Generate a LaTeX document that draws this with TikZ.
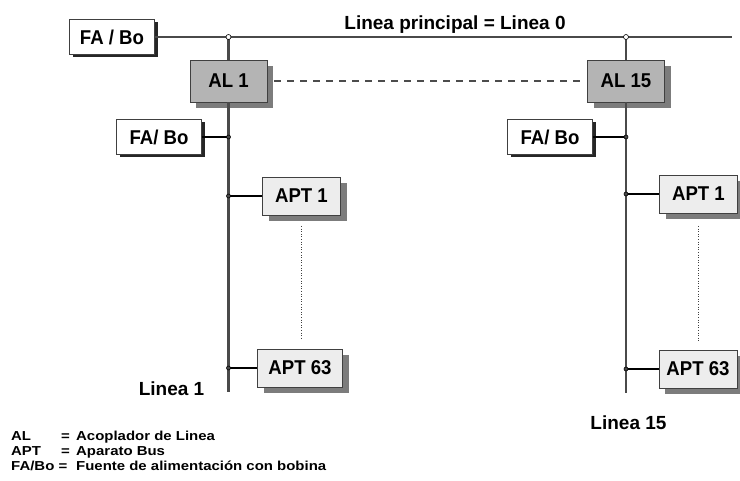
\documentclass[tikz,border=0pt]{standalone}
\usepackage{fontspec}
\setmainfont{Liberation Sans}
\newfontfamily\boxfont[FakeStretch=0.93]{Liberation Sans}
\newfontfamily\legfont[FakeStretch=1.15]{Liberation Sans}
\usetikzlibrary{shadows,calc}
\definecolor{alfill}{HTML}{B4B4B4}
\definecolor{aptfill}{HTML}{EDEDED}
\definecolor{shgray}{HTML}{7C7C7C}
\definecolor{busgray}{HTML}{4A4A4A}
\tikzset{
  boxbase/.style={draw=black!75, line width=0.9pt, inner sep=0pt, font=\boxfont\fontsize{20}{20}\selectfont\bfseries},
  fabox/.style={boxbase, fill=white, minimum width=85pt, minimum height=35pt,
    drop shadow={shadow xshift=3pt, shadow yshift=-3pt, fill=black!85, opacity=1}},
  albox/.style={boxbase, fill=alfill, minimum width=77pt, minimum height=42pt,
    drop shadow={shadow xshift=6pt, shadow yshift=-6pt, fill=shgray, opacity=1}},
  aptbox/.style={boxbase, fill=aptfill, minimum width=78pt, minimum height=38pt,
    drop shadow={shadow xshift=6pt, shadow yshift=-6pt, fill=shgray, opacity=1}},
  bus/.style={draw=busgray, line width=2.6pt},
  tap/.style={draw=black, line width=1.6pt},
  dotline/.style={draw=black!75, line width=1.4pt, dash pattern=on 1pt off 1.6pt},
  jdot/.style={circle, draw=black, fill=busgray, line width=0.6pt, inner sep=0pt, minimum size=5pt},
  lbl/.style={font=\fontsize{19}{19}\selectfont\bfseries, inner sep=0pt, anchor=base},
  leg/.style={font=\legfont\fontsize{13}{13}\selectfont\bfseries, inner sep=0pt, anchor=base west},
}
\begin{document}
\begin{tikzpicture}[x=1pt, y=-1pt]
\useasboundingbox (0,0) rectangle (740,481);
% coordinates
\coordinate (j0a) at (228.5,37);
\coordinate (j0b) at (626,37);
\coordinate (mainend) at (732,37);
\coordinate (l1b) at (228.5,392);
\coordinate (l15b) at (626,393);
\coordinate (j1a) at (228.5,137);
\coordinate (j1b) at (228.5,196);
\coordinate (j1c) at (228.5,368);
\coordinate (j15a) at (626,137);
\coordinate (j15b) at (626,194);
\coordinate (j15c) at (626,369);
\coordinate (d1top) at (301.5,226);
\coordinate (d1bot) at (301.5,340);
\coordinate (d15top) at (698.5,226);
\coordinate (d15bot) at (698.5,341);
% nodes
\node[fabox] (fa0) at (112,37) {FA / Bo};
\node[albox] (al1) at (228.5,81) {AL 1};
\node[albox] (al15) at (626,81) {AL 15};
\node[fabox] (fa1) at (159,137) {FA/ Bo};
\node[fabox] (fa15) at (550,137) {FA/ Bo};
\node[aptbox] (apt1) at (301.5,196) {APT 1};
\node[aptbox] (apt15) at (698.5,194) {APT 1};
\node[aptbox, minimum width=85pt] (apt63a) at (300,368) {APT 63};
\node[aptbox] (apt63b) at (698,369) {APT 63};
% main line
\draw[bus] (fa0.east) -- (mainend);
% vertical lines
\draw[bus] (j0a) -- (al1.north);
\draw[bus] (al1.south) -- (l1b);
\draw[bus] (j0b) -- (al15.north);
\draw[bus] (al15.south) -- (l15b);
% taps
\draw[tap] (fa1.east) -- (j1a);
\draw[tap] (j1b) -- (apt1.west);
\draw[tap] (j1c) -- (apt63a.west);
\draw[tap] (fa15.east) -- (j15a);
\draw[tap] (j15b) -- (apt15.west);
\draw[tap] (j15c) -- (apt63b.west);
% dashed and dotted
\draw[black!70, line width=1.6pt, dash pattern=on 7pt off 6pt] ($(al1.east)+(7pt,0)$) -- ($(al15.west)+(-5pt,0)$);
\draw[dotline] (d1top) -- (d1bot);
\draw[dotline] (d15top) -- (d15bot);
% junction dots
\foreach \p in {j0a,j0b} \node[jdot, fill=white] at (\p) {};
\foreach \p in {j1a,j1b,j1c,j15a,j15b,j15c} \node[jdot, minimum size=4pt] at (\p) {};
% labels
\node[lbl] (title) at (455,30) {Linea principal = Linea 0};
\node[lbl] (lab1) at (171.5,396) {Linea 1};
\node[lbl] (lab15) at (628.5,430) {Linea 15};
% legend
\node[leg] (k1) at (11,441) {AL};
\node[leg] (e1) at (61,441) {=};
\node[leg] (d1) at (76,441) {Acoplador de Linea};
\node[leg] (k2) at (11,456) {APT};
\node[leg] (e2) at (61,456) {=};
\node[leg] (d2) at (76,456) {Aparato Bus};
\node[leg] (k3) at (11,471) {FA/Bo =};
\node[leg] (d3) at (76,471) {Fuente de alimentación con bobina};
\end{tikzpicture}
\end{document}
